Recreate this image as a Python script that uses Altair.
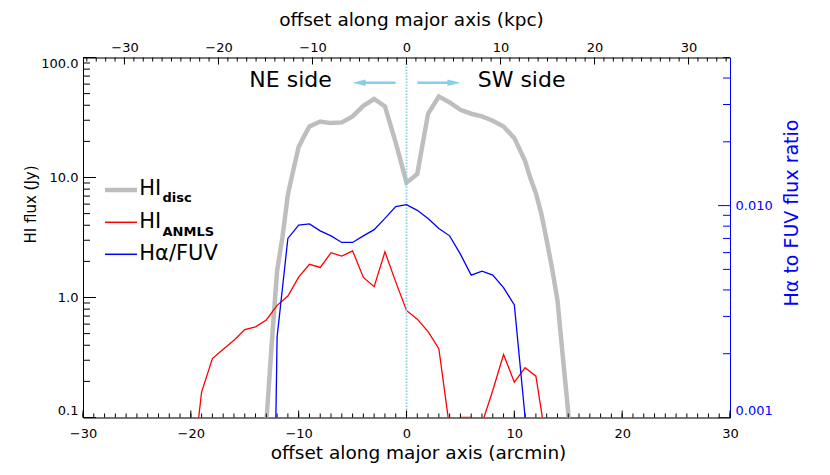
import altair as alt
import pandas as pd

FONT = "DejaVu Sans"
SKY = "#87CEEB"
GRAY = "#BEBEBE"
W, H = 647, 360
KPC_PER_ARCMIN = 1.147
X_DOMAIN = [-30, 30]
KPC_DOMAIN = [X_DOMAIN[0] * KPC_PER_ARCMIN, X_DOMAIN[1] * KPC_PER_ARCMIN]
HI_DOMAIN = [0.1, 100]
RATIO_DOMAIN = [0.001, 0.05]

# ---------------- data ----------------
disc_offset = [-13, -12.5, -12, -11.5, -11, -10.5, -10, -9.5, -9, -8, -7, -6, -5, -4, -3, -2, -1,
               0, 1, 2, 3, 4, 5, 6, 7, 8, 9, 10, 11, 11.5, 12, 12.5, 13, 13.5, 14, 14.5, 15, 16]
disc_flux = [0.09, 0.41, 1.67, 3.2, 7.2, 11.5, 18, 22, 26.6, 29.3, 28.4, 28.8, 32.3, 39.6, 45.1, 39.1, 19.5,
             9.06, 10.7, 34, 47.4, 42.3, 36.7, 34, 32.3, 29.7, 26.6, 21.3, 13.7, 9.8, 7.4, 5.0, 3.0, 1.75,
             0.95, 0.32, 0.11, 0.01]

anmls_offset = [-20, -19, -18, -17, -16, -15, -14, -13, -12, -11, -10, -9, -8, -7, -6, -5, -4, -3, -2, -1,
                0, 1, 2, 3, 4, 5, 6, 7, 8, 9, 10, 11, 12, 13]
anmls_flux = [0.027, 0.163, 0.31, 0.37, 0.44, 0.54, 0.57, 0.65, 0.86, 1.03, 1.48, 1.89, 1.78, 2.36, 2.21,
              2.45, 1.47, 1.23, 2.4, 1.35, 0.78, 0.66, 0.52, 0.375, 0.081, 0.1, 0.1, 0.089, 0.168, 0.335,
              0.197, 0.26, 0.221, 0.059]

ratio_offset = [-13, -12, -11, -10, -9, -8, -7, -6, -5, -4, -3, -2, -1, 0, 1, 2, 3, 4, 5, 6, 7, 8, 9, 10, 11, 12]
ratio_value = [1e-6, 0.0024, 0.0070, 0.0081, 0.0082, 0.0076, 0.0072, 0.0067, 0.0067, 0.0072, 0.0077, 0.0087,
               0.0099, 0.0101, 0.0095, 0.0087, 0.0078, 0.0072, 0.0059, 0.0047, 0.0049, 0.0047, 0.0041,
               0.0034, 0.001, 1e-6]

# tick positions / labels
x_major = [-30, -20, -10, 0, 10, 20, 30]
x_minor = list(range(-30, 31))
kpc_major = [-30, -20, -10, 0, 10, 20, 30]
kpc_minor = list(range(-34, 35))
hi_major = [0.1, 1, 10, 100]
hi_minor = [0.2, 0.3, 0.4, 0.5, 0.6, 0.7, 0.8, 0.9, 2, 3, 4, 5, 6, 7, 8, 9, 20, 30, 40, 50, 60, 70, 80, 90]
ratio_major = [0.001, 0.01]
ratio_minor = [0.002, 0.003, 0.004, 0.005, 0.006, 0.007, 0.008, 0.009, 0.02, 0.03, 0.04, 0.05]

side_labels = ["NE side", "SW side"]
side_offset = [-10.75, 10.67]
arrow_from = [-1.0, 1.0]
arrow_to = [-4.4, 4.4]
arrow_tip_left = [-5.0]
arrow_tip_right = [5.0]

# ---------------- scales & axes ----------------
xs = alt.Scale(domain=X_DOMAIN, nice=False, zero=False)
ks = alt.Scale(domain=KPC_DOMAIN, nice=False, zero=False)
ys_hi = alt.Scale(type="log", domain=HI_DOMAIN, nice=False)
ys_ratio = alt.Scale(type="log", domain=RATIO_DOMAIN, nice=False)

common = dict(ticks=False, tickSize=0, grid=False, domainWidth=1,
              labelFont=FONT, labelFontSize=13, titleFont=FONT, titleFontWeight="normal")

ax_bottom = alt.Axis(orient="bottom", values=x_major, format="d", domainColor="black",
                     labelColor="black", labelPadding=10, labelFlush=False,
                     title="offset along major axis (arcmin)", titleFontSize=18.5, titleColor="black",
                     titleX=335, titleY=41, titleBaseline="alphabetic", titleAlign="center", **common)
ax_top = alt.Axis(orient="top", values=kpc_major, format="d", domainColor="black",
                  labelColor="black", labelPadding=3, labelFlush=False,
                  title="offset along major axis (kpc)", titleFontSize=18.5, titleColor="black",
                  titleX=328, titleY=-32, titleBaseline="alphabetic", titleAlign="center", **common)
ax_left = alt.Axis(orient="left", values=hi_major, format=".1f", domainColor="black",
                   labelColor="black", labelPadding=5, labelFlush=True,
                   title="HI flux (Jy)", titleFontSize=15, titleColor="black", titleAngle=270,
                   titleX=-48, titleY=146.5, titleBaseline="alphabetic", titleAlign="center", **common)
ax_right = alt.Axis(orient="right", values=ratio_major, format=".3f", domainColor="blue",
                    labelColor="blue", labelPadding=5, labelFlush=True,
                    title="H\u03b1 to FUV flux ratio", titleFontSize=19, titleColor="blue", titleAngle=270,
                    titleX=67, titleY=155, titleBaseline="alphabetic", titleAlign="center", **common)


def X(field):
    return alt.X(field, type="quantitative", scale=xs, axis=ax_bottom)


def Y(field):
    return alt.Y(field, type="quantitative", scale=ys_hi, axis=ax_left)


one = pd.DataFrame({"a": [0]})

# ---------------- main (HI) layer ----------------
disc = alt.Chart(pd.DataFrame({"offset": disc_offset, "flux": disc_flux})).mark_line(
    color=GRAY, strokeWidth=4.5, clip=True).encode(x=X("offset"), y=Y("flux"))
anmls = alt.Chart(pd.DataFrame({"offset": anmls_offset, "flux": anmls_flux})).mark_line(
    color="red", strokeWidth=1.3, clip=True).encode(x=X("offset"), y=Y("flux"))

centre = alt.Chart(pd.DataFrame({"offset": [0]})).mark_rule(
    color=SKY, strokeWidth=1.8, strokeDash=[1.5, 1.5]).encode(x=X("offset"))

bx_major = alt.Chart(pd.DataFrame({"v": x_major})).mark_rule(color="black", strokeWidth=1).encode(
    x=X("v"), y=alt.value(H), y2=alt.value(H - 7))
bx_minor = alt.Chart(pd.DataFrame({"v": x_minor})).mark_rule(color="black", strokeWidth=1).encode(
    x=X("v"), y=alt.value(H), y2=alt.value(H - 4))
ly_major = alt.Chart(pd.DataFrame({"v": hi_major})).mark_rule(color="black", strokeWidth=1).encode(
    y=Y("v"), x=alt.value(0), x2=alt.value(13))
ly_minor = alt.Chart(pd.DataFrame({"v": hi_minor})).mark_rule(color="black", strokeWidth=1).encode(
    y=Y("v"), x=alt.value(0), x2=alt.value(7))

sides = alt.Chart(pd.DataFrame({"label": side_labels, "offset": side_offset})).mark_text(
    font=FONT, fontSize=22, color="black", align="center", baseline="alphabetic").encode(
    x=X("offset"), y=alt.value(29.2), text="label:N")
shafts = alt.Chart(pd.DataFrame({"x0": arrow_from, "x1": arrow_to})).mark_rule(
    color=SKY, strokeWidth=2.5).encode(x=X("x0"), x2="x1:Q", y=alt.value(25.2))
head_l = alt.Chart(pd.DataFrame({"tip": arrow_tip_left})).mark_point(
    shape="M0,0L2,-0.5L2,0.5Z", filled=True, size=169, color=SKY, opacity=1).encode(
    x=X("tip"), y=alt.value(25.2))
head_r = alt.Chart(pd.DataFrame({"tip": arrow_tip_right})).mark_point(
    shape="M0,0L-2,-0.5L-2,0.5Z", filled=True, size=169, color=SKY, opacity=1).encode(
    x=X("tip"), y=alt.value(25.2))

# legend
def leg_line(color, width, y):
    return alt.Chart(one).mark_rule(color=color, strokeWidth=width).encode(
        x=alt.value(22), x2=alt.value(54), y=alt.value(y))


def leg_text(txt, x, y, size, weight="normal"):
    return alt.Chart(one).mark_text(text=txt, font=FONT, fontSize=size, fontWeight=weight,
                                    color="black", align="left", baseline="alphabetic").encode(
        x=alt.value(x), y=alt.value(y))


legend = [
    leg_line(GRAY, 4.5, 132.5), leg_text("HI", 56.3, 137.5, 21), leg_text("disc", 79.5, 144.8, 13, "bold"),
    leg_line("red", 1.5, 164.8), leg_text("HI", 56.3, 170.2, 21), leg_text("ANMLS", 79.5, 178.2, 13, "bold"),
    leg_line("blue", 1.5, 196.8), leg_text("H\u03b1/FUV", 56.3, 202.5, 21),
]

main = alt.layer(disc, anmls, centre, bx_minor, bx_major, ly_minor, ly_major,
                 shafts, head_l, head_r, sides, *legend)

# ---------------- ratio layer (right axis) ----------------
XR = alt.X("offset", type="quantitative", scale=xs, axis=None)
YR = lambda f: alt.Y(f, type="quantitative", scale=ys_ratio, axis=ax_right)
ratio_line = alt.Chart(pd.DataFrame({"offset": ratio_offset, "ratio": ratio_value})).mark_line(
    color="blue", strokeWidth=1.3, clip=True).encode(x=XR, y=YR("ratio"))
ry_major = alt.Chart(pd.DataFrame({"v": ratio_major})).mark_rule(color="blue", strokeWidth=1).encode(
    y=YR("v"), x=alt.value(W), x2=alt.value(W - 12))
ry_minor = alt.Chart(pd.DataFrame({"v": ratio_minor})).mark_rule(color="blue", strokeWidth=1).encode(
    y=YR("v"), x=alt.value(W), x2=alt.value(W - 7))
ratio = alt.layer(ratio_line, ry_minor, ry_major)

# ---------------- top (kpc) axis ----------------
KX = lambda f: alt.X(f, type="quantitative", scale=ks, axis=ax_top)
tk_minor = alt.Chart(pd.DataFrame({"k": kpc_minor})).mark_rule(color="black", strokeWidth=1).encode(
    x=KX("k"), y=alt.value(0), y2=alt.value(4))
tk_major = alt.Chart(pd.DataFrame({"k": kpc_major})).mark_rule(color="black", strokeWidth=1).encode(
    x=KX("k"), y=alt.value(0), y2=alt.value(7))
top = alt.layer(tk_minor, tk_major)

chart = alt.layer(main, ratio, top).resolve_scale(x="independent", y="independent").properties(
    width=W, height=H,
    autosize=alt.AutoSizeParams(type="none"),
    padding={"left": 75, "top": 49.5, "right": 90, "bottom": 46},
).configure_view(stroke=None).configure(font=FONT)

chart.save("out.html", embed_options={"renderer": "svg", "actions": False})
